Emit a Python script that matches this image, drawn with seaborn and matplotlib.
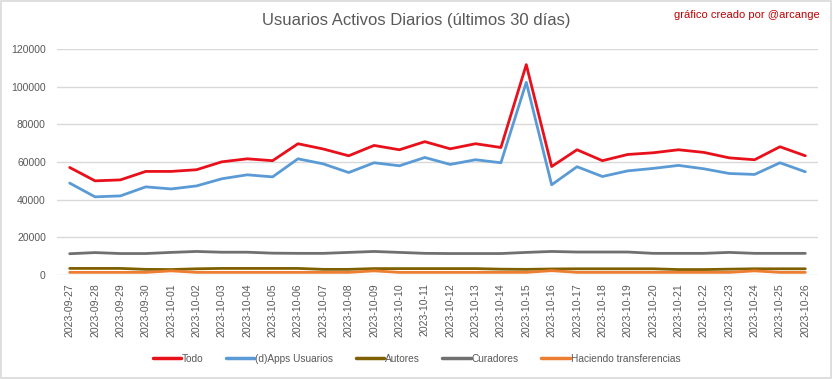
import numpy as np
import pandas as pd
import matplotlib
matplotlib.use('Agg')
import matplotlib.pyplot as plt
import seaborn as sns
from matplotlib.patches import Rectangle

fechas = pd.date_range('2023-09-27', '2023-10-26').strftime('%Y-%m-%d').tolist()

todo = [57100, 50000, 50500, 55000, 55000, 55900, 60100, 61700, 60700, 69700,
        66900, 63300, 68800, 66500, 70800, 67000, 69700, 67700, 111700, 57600,
        66500, 60700, 64000, 64900, 66500, 65100, 62200, 61200, 68100, 63300]
dapps = [48800, 41500, 42000, 46800, 45700, 47300, 51100, 53200, 52100, 61700,
         59000, 54400, 59600, 58000, 62400, 58700, 61200, 59600, 102300, 47900,
         57500, 52300, 55300, 56600, 58200, 56400, 53900, 53400, 59600, 54800]
autores = [3500, 3500, 3500, 3000, 2900, 3300, 3500, 3500, 3500, 3500,
           3000, 3000, 3400, 3400, 3400, 3400, 3400, 3100, 3000, 3200,
           3300, 3300, 3300, 3300, 2900, 2900, 3100, 3300, 3300, 3300]
curadores = [11300, 11900, 11400, 11400, 12000, 12500, 12100, 12100, 11600, 11500,
             11500, 12000, 12500, 12000, 11500, 11400, 11400, 11400, 12000, 12500,
             12200, 12200, 12200, 11500, 11500, 11500, 12000, 11500, 11500, 11500]
transferencias = [1400, 1400, 1400, 1400, 2200, 1400, 1400, 1400, 1400, 1400,
                  1400, 1400, 2200, 1400, 1400, 1400, 1400, 1400, 1400, 2300,
                  1400, 1400, 1400, 1400, 1400, 1400, 1400, 2200, 1400, 1400]

series = {
    'Todo': todo,
    '(d)Apps Usuarios': dapps,
    'Autores': autores,
    'Curadores': curadores,
    'Haciendo transferencias': transferencias,
}
colores = ['#E8101A', '#5B9BD5', '#7F6000', '#707070', '#ED7D31']

df = pd.DataFrame({'fecha': fechas, **series})
df_long = df.melt(id_vars='fecha', var_name='serie', value_name='usuarios')

sns.set_theme(style='white')
plt.rcParams['font.family'] = ['Liberation Sans', 'DejaVu Sans']

fig = plt.figure(figsize=(8.33, 3.79), dpi=100)
ax = fig.add_axes([0.0684, 0.2744, 0.9136, 0.5963])

sns.lineplot(data=df_long, x='fecha', y='usuarios', hue='serie',
             hue_order=list(series.keys()), palette=colores,
             linewidth=2.0, sort=False, ax=ax, legend=False)

ax.set_xlim(-0.5, len(fechas) - 0.5)
ax.set_ylim(0, 120000)
ax.set_yticks(np.arange(0, 120001, 20000))
ax.yaxis.grid(True, color='#D9D9D9', linewidth=1)
ax.set_axisbelow(True)
for s in ax.spines.values():
    s.set_visible(False)
ax.set_xlabel('')
ax.set_ylabel('')
ax.tick_params(axis='both', length=0, colors='#595959')
ax.tick_params(axis='y', pad=8, labelsize=7.5)
ax.tick_params(axis='x', pad=6)
ax.set_xticks(range(len(fechas)))
ax.set_xticklabels(fechas, rotation=90, fontsize=7.6)

# leyenda
handles = [plt.Line2D([0], [0], color=c, lw=2.5) for c in colores]
fig.legend(handles, list(series.keys()), loc='center', bbox_to_anchor=(0.5, 0.053),
           ncol=5, frameon=False, fontsize=7.3, handlelength=2.8,
           handletextpad=0.1, columnspacing=2.2, labelcolor='#595959')

fig.text(0.5, 0.945, 'Usuarios Activos Diarios (últimos 30 días)', ha='center',
         va='center', fontsize=12, color='#595959')
fig.text(0.984, 0.96, 'gráfico creado por @arcange', ha='right', va='center',
         fontsize=8, color='#C00000')

fig.patches.append(Rectangle((0.001, 0.002), 0.997, 0.996, transform=fig.transFigure,
                             fill=False, edgecolor='#D9D9D9', linewidth=1.2))

fig.savefig('out.png', dpi=100)
